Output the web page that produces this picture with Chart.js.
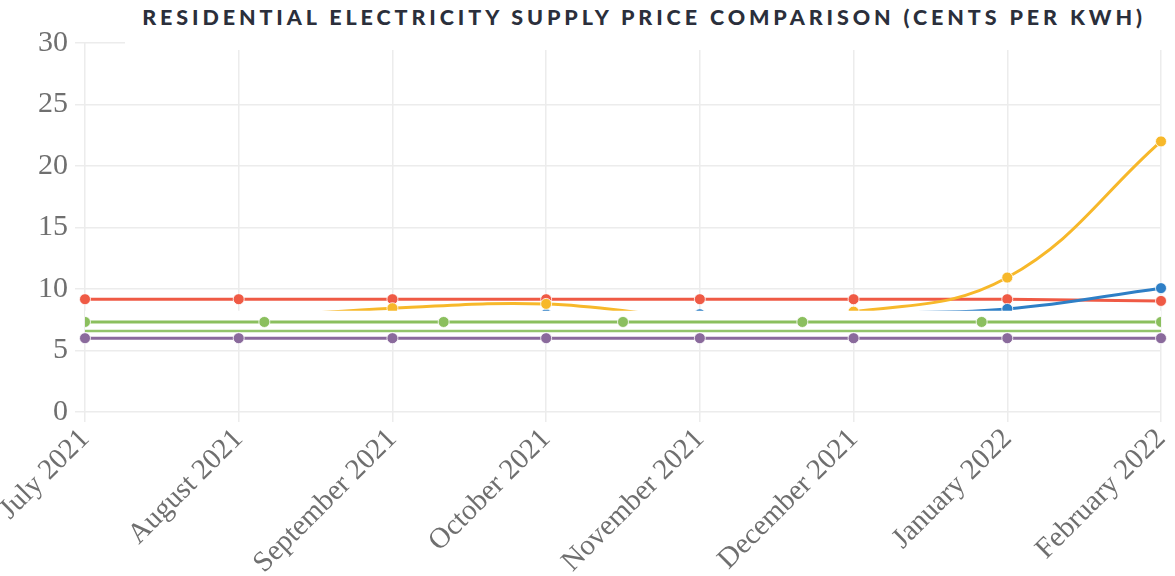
<!DOCTYPE html>
<html lang="en">
<head>
<meta charset="UTF-8">
<title>Residential Electricity Supply Price Comparison</title>
<script src="https://cdn.jsdelivr.net/npm/chart.js@4.4.0/dist/chart.umd.min.js"></script>
<style>
    html, body { margin: 0; padding: 0; background: #fff; }
    .wrap { position: relative; width: 1175px; height: 576px; overflow: hidden; }
    #chart { position: absolute; left: 0; top: 0; }
    .title {
        position: absolute; left: 125px; right: 0; top: 0; height: 50px;
        background: #fff; text-align: center;
        font-family: Lato, "Open Sans", sans-serif; font-weight: 900;
        font-size: 21.5px; letter-spacing: 3.9px; color: #2b2f3b;
        line-height: 34px; padding-right: 12px;
    }
</style>
</head>
<body>
<div class="wrap">
    <canvas id="chart" width="1175" height="576"></canvas>
    <div class="title">RESIDENTIAL ELECTRICITY SUPPLY PRICE COMPARISON (CENTS PER KWH)</div>
</div>
<script>
// months on the x axis
const months = ['July 2021', 'August 2021', 'September 2021', 'October 2021',
                'November 2021', 'December 2021', 'January 2022', 'February 2022'];

// cents per kWh
const redSeries    = [9.17, 9.17, 9.17, 9.17, 9.17, 9.17, 9.17, 9.03];
const yellowSeries = [7.7, 7.7, 8.44, 8.79, 7.7, 8.16, 10.93, 22.0];
const blueSeries   = [7.6, 7.7, 7.8, 7.95, 7.95, 8.05, 8.38, 10.07];
const purpleSeries = [6.0, 6.0, 6.0, 6.0, 6.0, 6.0, 6.0, 6.0];
const greenFlat    = [6.59, 6.59, 6.59, 6.59, 6.59, 6.59, 6.59, 6.59];
// green dotted series sits on its own 7-step axis
const greenSteps   = [0, 1, 2, 3, 4, 5, 6];
const greenDots    = [7.32, 7.32, 7.32, 7.32, 7.32, 7.32, 7.32];

// white strip pasted over the lower part of the plot
const stripTop    = 8.24;
const stripBottom = 5.65;

const yTicks = [0, 5, 10, 15, 20, 25, 30];

const red = '#ef5a45', yellow = '#f7b82a', blue = '#2e7fc6',
      green = '#8bbf5e', purple = '#8a6a9c';

function line(label, data, color, order, extra) {
    return Object.assign({
        label: label, data: data, borderColor: color, backgroundColor: color,
        borderWidth: 3, pointRadius: 5.5, pointBorderWidth: 1,
        pointBorderColor: 'rgba(255,255,255,0.8)', pointBackgroundColor: color,
        tension: 0.4, order: order, fill: false
    }, extra || {});
}

// first point of the two hidden series sits under the strip, beyond its left end
const hideFirst = ctx => ctx.dataIndex === 0 ? 0 : 5.5;

const datasets = [
    line('red', redSeries, red, 7, { tension: 0 }),
    line('blue', blueSeries, blue, 6, { pointRadius: hideFirst }),
    line('yellow', yellowSeries, yellow, 5, { pointRadius: hideFirst }),
    line('stripTop', months.map(() => stripTop), 'rgba(0,0,0,0)', 4,
         { borderWidth: 0, pointRadius: 0 }),
    line('stripBottom', months.map(() => stripBottom), 'rgba(0,0,0,0)', 3,
         { borderWidth: 0, pointRadius: 0, fill: 3, backgroundColor: '#ffffff', tension: 0 }),
    line('greenFlat', greenFlat, '#93c46b', 2, { borderWidth: 2.5, pointRadius: 0, tension: 0 }),
    line('greenDots', greenSteps.map((x, i) => ({ x: x, y: greenDots[i] })), green, 1,
         { xAxisID: 'x2', tension: 0 }),
    line('purple', purpleSeries, purple, 0, { tension: 0 })
];

const serif = '"Liberation Serif", "DejaVu Serif", serif';

new Chart(document.getElementById('chart'), {
    type: 'line',
    data: { labels: months, datasets: datasets },
    options: {
        responsive: false,
        animation: false,
        layout: { padding: { top: 43, right: 0, left: 0, bottom: 0 } },
        plugins: { legend: { display: false }, tooltip: { enabled: false } },
        scales: {
            x: {
                offset: false,
                grid: { color: '#ececec', lineWidth: 1.5, tickLength: 10 },
                border: { display: false },
                ticks: {
                    color: '#6f6f6f', font: { family: serif, size: 29 },
                    minRotation: 45, maxRotation: 45, padding: 0, autoSkip: false
                },
                afterFit: s => { s.height = 164; s.paddingLeft = 0; s.paddingRight = 14; }
            },
            x2: {
                type: 'linear', display: false, min: 0, max: 6
            },
            y: {
                min: 0, max: 30,
                afterBuildTicks: s => { s.ticks = yTicks.map(v => ({ value: v })); },
                grid: { color: '#ececec', lineWidth: 1.5, tickLength: 10 },
                border: { display: false },
                ticks: { color: '#6f6f6f', font: { family: serif, size: 30 }, padding: 7 },
                afterFit: s => { s.width = 85; s.paddingTop = 0; s.paddingBottom = 0; }
            }
        }
    }
});
</script>
</body>
</html>
